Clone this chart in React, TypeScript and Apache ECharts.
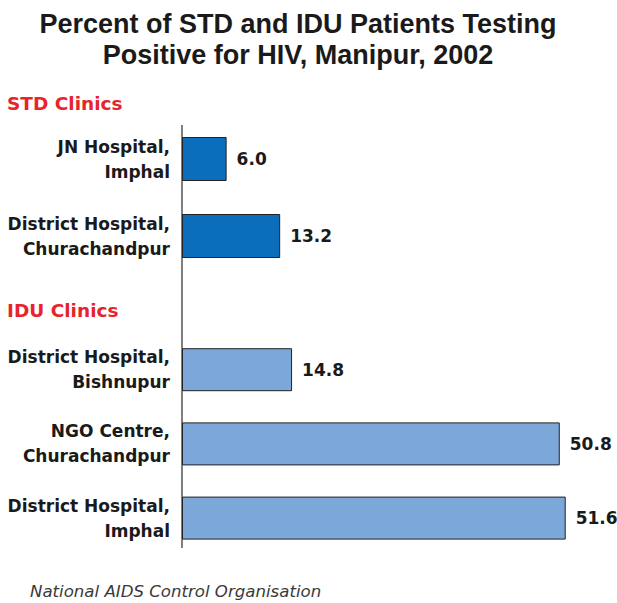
import React, { useEffect, useRef } from "react";
import * as echarts from "echarts";

const titleLines = ["Percent of STD and IDU Patients Testing", "Positive for HIV, Manipur, 2002"];
const stdHeader = "STD Clinics";
const iduHeader = "IDU Clinics";
const stdCategories = ["JN Hospital,\nImphal", "District Hospital,\nChurachandpur"];
const stdValues = [6.0, 13.2];
const iduCategories = ["District Hospital,\nBishnupur", "NGO Centre,\nChurachandpur", "District Hospital,\nImphal"];
const iduValues = [14.8, 50.8, 51.6];
const sourceText = "National AIDS Control Organisation";

const LABEL_FONT = "DejaVu Sans";

export default function App() {
  const ref = useRef<HTMLDivElement>(null);
  useEffect(() => {
    if (!ref.current) return;
    const chart = echarts.init(ref.current, null, { renderer: "svg" });
    const catAxis = (gridIndex: number, data: string[]) => ({
      type: "category",
      gridIndex,
      data,
      inverse: true,
      axisLine: { show: false },
      axisTick: { show: false },
      axisLabel: {
        margin: 12,
        fontFamily: LABEL_FONT,
        fontWeight: "bold",
        fontSize: 17,
        lineHeight: 25,
        color: "#1a1a1a",
        align: "right",
      },
    });
    const valAxis = (gridIndex: number) => ({
      type: "value",
      gridIndex,
      min: 0,
      max: 55,
      show: false,
      splitLine: { show: false },
    });
    const label = {
      show: true,
      position: "right",
      distance: 10,
      fontFamily: LABEL_FONT,
      fontWeight: "bold",
      fontSize: 17,
      color: "#1a1a1a",
      formatter: (p: any) => Number(p.value).toFixed(1),
    };
    chart.setOption({
      animation: false,
      title: {
        text: titleLines.join("\n"),
        left: 293,
        top: 3,
        textAlign: "center",
        textStyle: {
          fontFamily: "Liberation Sans",
          fontWeight: "bold",
          fontSize: 27,
          lineHeight: 31,
          color: "#1a1a1a",
        },
      },
      grid: [
        { left: 182, top: 120.5, width: 409, height: 154, containLabel: false },
        { left: 182, top: 332.6, width: 409, height: 222.6, containLabel: false },
      ],
      xAxis: [valAxis(0), valAxis(1)],
      yAxis: [catAxis(0, stdCategories), catAxis(1, iduCategories)],
      series: [
        {
          type: "bar",
          xAxisIndex: 0,
          yAxisIndex: 0,
          data: stdValues,
          barWidth: 44,
          itemStyle: { color: "#0a6ebd", borderColor: "#222", borderWidth: 1 },
          label,
        },
        {
          type: "bar",
          xAxisIndex: 1,
          yAxisIndex: 1,
          data: iduValues,
          barWidth: 43,
          itemStyle: { color: "#7ba7d9", borderColor: "#222", borderWidth: 1 },
          label,
        },
      ],
      graphic: [
        {
          type: "line",
          shape: { x1: 182, y1: 125, x2: 182, y2: 548 },
          style: { stroke: "#555", lineWidth: 1.5 },
        },
        {
          type: "text",
          x: 7,
          y: 103.5,
          style: {
            text: stdHeader,
            fontFamily: LABEL_FONT,
            fontWeight: "bold",
            fontSize: 18.5,
            fill: "#e8232b",
            verticalAlign: "middle",
          },
        },
        {
          type: "text",
          x: 7,
          y: 310.5,
          style: {
            text: iduHeader,
            fontFamily: LABEL_FONT,
            fontWeight: "bold",
            fontSize: 18.5,
            fill: "#e8232b",
            verticalAlign: "middle",
          },
        },
        {
          type: "text",
          x: 30,
          y: 591.5,
          style: {
            text: sourceText,
            fontFamily: "DejaVu Sans",
            fontStyle: "italic",
            fontSize: 16.6,
            fill: "#3a3a3a",
            verticalAlign: "middle",
          },
        },
      ],
    });
    return () => chart.dispose();
  }, []);
  return (
    <div
      ref={ref}
      style={{ position: "fixed", left: 0, top: 0, width: 617, height: 603, background: "#fff" }}
    />
  );
}
